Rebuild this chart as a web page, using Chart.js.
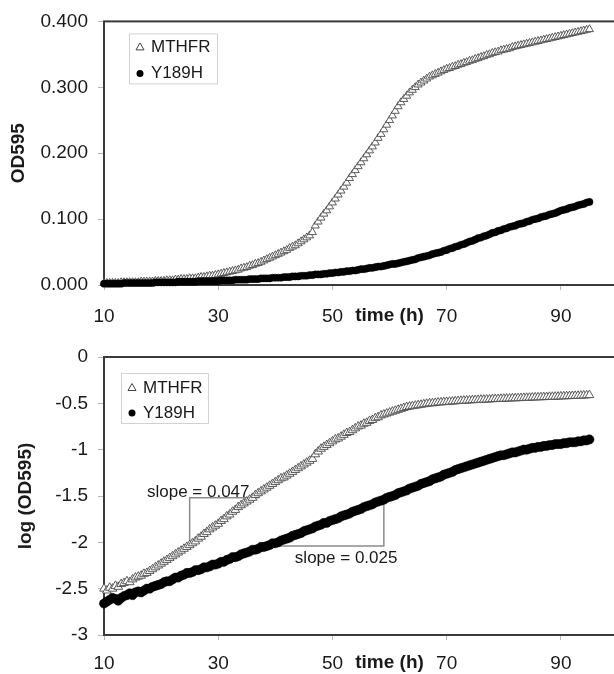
<!DOCTYPE html>
<html>
<head>
<meta charset="utf-8">
<title>OD595 growth curves</title>
<script src="https://cdn.jsdelivr.net/npm/chart.js@4.4.1/dist/chart.umd.min.js"></script>
<style>
  html, body { margin: 0; padding: 0; background: #fff; overflow: hidden; width: 614px; height: 674px; }
  canvas { display: block; }
</style>
</head>
<body>
<canvas id="odChart" width="630" height="335"></canvas>
<canvas id="logChart" width="630" height="339"></canvas>
<script>
// --- data ---
const seriesNames = ['MTHFR', 'Y189H'];

const timeH = [
  10,10.5,11,11.5,12,12.5,13,13.5,14,14.5,15,15.5,16,16.5,17,17.5,18,18.5,19,19.5,
  20,20.5,21,21.5,22,22.5,23,23.5,24,24.5,25,25.5,26,26.5,27,27.5,28,28.5,29,29.5,
  30,30.5,31,31.5,32,32.5,33,33.5,34,34.5,35,35.5,36,36.5,37,37.5,38,38.5,39,39.5,
  40,40.5,41,41.5,42,42.5,43,43.5,44,44.5,45,45.5,46,46.5,47,47.5,48,48.5,49,49.5,
  50,50.5,51,51.5,52,52.5,53,53.5,54,54.5,55,55.5,56,56.5,57,57.5,58,58.5,59,59.5,
  60,60.5,61,61.5,62,62.5,63,63.5,64,64.5,65,65.5,66,66.5,67,67.5,68,68.5,69,69.5,
  70,70.5,71,71.5,72,72.5,73,73.5,74,74.5,75,75.5,76,76.5,77,77.5,78,78.5,79,79.5,
  80,80.5,81,81.5,82,82.5,83,83.5,84,84.5,85,85.5,86,86.5,87,87.5,88,88.5,89,89.5,
  90,90.5,91,91.5,92,92.5,93,93.5,94,94.5,95
];

// OD595, top panel
const odMTHFR = [
  0.003,0.003,0.003,0.003,0.003,0.003,0.004,0.004,0.004,0.004, 0.004,0.004,0.004,0.005,0.005,0.005,0.005,0.005,0.006,0.006,
  0.006,0.006,0.007,0.007,0.007,0.008,0.008,0.009,0.009,0.009, 0.010,0.010,0.010,0.011,0.012,0.012,0.013,0.014,0.014,0.015,
  0.016,0.017,0.018,0.019,0.020,0.021,0.022,0.023,0.025,0.026, 0.027,0.029,0.030,0.032,0.033,0.035,0.037,0.039,0.041,0.043,
  0.045,0.047,0.049,0.051,0.053,0.056,0.058,0.060,0.063,0.066, 0.069,0.072,0.075,0.080,0.090,0.096,0.102,0.108,0.113,0.119,
  0.125,0.131,0.137,0.143,0.149,0.155,0.162,0.168,0.174,0.180, 0.186,0.192,0.198,0.204,0.210,0.216,0.223,0.229,0.236,0.243,
  0.250,0.257,0.264,0.271,0.277,0.282,0.287,0.292,0.296,0.300, 0.304,0.307,0.310,0.313,0.316,0.318,0.320,0.322,0.324,0.326,
  0.328,0.329,0.331,0.332,0.334,0.335,0.337,0.338,0.340,0.341, 0.343,0.344,0.346,0.347,0.349,0.350,0.352,0.353,0.354,0.356,
  0.357,0.358,0.359,0.361,0.362,0.363,0.364,0.365,0.366,0.367, 0.368,0.369,0.370,0.371,0.372,0.373,0.374,0.375,0.376,0.377,
  0.378,0.379,0.380,0.381,0.382,0.383,0.384,0.385,0.386,0.387,0.388
];
const odY189H = [
  0.002,0.002,0.002,0.002,0.002,0.002,0.002,0.003,0.003,0.003, 0.003,0.003,0.003,0.003,0.003,0.003,0.003,0.003,0.004,0.004,
  0.004,0.004,0.004,0.004,0.004,0.004,0.005,0.005,0.005,0.005, 0.005,0.005,0.005,0.006,0.006,0.006,0.006,0.006,0.006,0.006,
  0.006,0.007,0.007,0.007,0.007,0.007,0.008,0.008,0.008,0.008, 0.008,0.009,0.009,0.009,0.009,0.010,0.010,0.010,0.010,0.011,
  0.011,0.011,0.011,0.012,0.012,0.012,0.013,0.013,0.013,0.014, 0.014,0.014,0.015,0.015,0.016,0.016,0.016,0.017,0.017,0.018,
  0.018,0.019,0.019,0.020,0.020,0.021,0.021,0.022,0.022,0.023, 0.024,0.024,0.025,0.026,0.026,0.027,0.028,0.028,0.029,0.030,
  0.031,0.032,0.032,0.033,0.034,0.035,0.036,0.037,0.038,0.039, 0.041,0.042,0.043,0.044,0.045,0.047,0.048,0.049,0.050,0.052,
  0.053,0.055,0.056,0.058,0.059,0.061,0.062,0.064,0.066,0.067, 0.069,0.071,0.072,0.074,0.075,0.077,0.079,0.080,0.082,0.083,
  0.085,0.086,0.088,0.089,0.090,0.092,0.093,0.094,0.096,0.097, 0.099,0.100,0.101,0.103,0.104,0.105,0.107,0.108,0.109,0.111,
  0.113,0.114,0.115,0.117,0.118,0.119,0.121,0.122,0.123,0.125,0.126
];

// log(OD595), bottom panel
const logMTHFR = [
  -2.50,-2.52,-2.49,-2.50,-2.47,-2.48,-2.45,-2.44,-2.42,-2.43, -2.40,-2.38,-2.37,-2.36,-2.34,-2.33,-2.31,-2.29,-2.27,-2.25,
  -2.23,-2.21,-2.19,-2.17,-2.15,-2.13,-2.11,-2.09,-2.07,-2.05, -2.03,-2.01,-1.99,-1.96,-1.94,-1.91,-1.89,-1.86,-1.84,-1.82,
  -1.80,-1.77,-1.75,-1.72,-1.70,-1.67,-1.65,-1.62,-1.60,-1.58, -1.56,-1.54,-1.52,-1.49,-1.47,-1.45,-1.43,-1.41,-1.39,-1.37,
  -1.35,-1.33,-1.31,-1.30,-1.28,-1.26,-1.24,-1.22,-1.20,-1.18, -1.16,-1.14,-1.12,-1.10,-1.05,-1.02,-0.99,-0.97,-0.95,-0.93,
  -0.91,-0.89,-0.88,-0.86,-0.84,-0.82,-0.81,-0.79,-0.77,-0.75, -0.74,-0.72,-0.71,-0.69,-0.68,-0.66,-0.65,-0.63,-0.62,-0.61,
  -0.60,-0.59,-0.58,-0.57,-0.56,-0.55,-0.54,-0.535,-0.53,-0.525, -0.52,-0.515,-0.51,-0.505,-0.50,-0.50,-0.495,-0.49,-0.49,-0.487,
  -0.485,-0.482,-0.48,-0.478,-0.475,-0.473,-0.471,-0.47,-0.468,-0.466, -0.465,-0.463,-0.461,-0.46,-0.459,-0.457,-0.455,-0.454,-0.453,-0.451,
  -0.45,-0.449,-0.447,-0.446,-0.445,-0.444,-0.443,-0.441,-0.44,-0.439, -0.437,-0.436,-0.435,-0.434,-0.433,-0.432,-0.43,-0.429,-0.428,-0.427,
  -0.425,-0.424,-0.423,-0.422,-0.42,-0.419,-0.418,-0.417,-0.415,-0.413,-0.411
];
const logY189H = [
  -2.66,-2.64,-2.62,-2.60,-2.61,-2.63,-2.60,-2.58,-2.57,-2.55, -2.57,-2.54,-2.53,-2.54,-2.52,-2.50,-2.50,-2.48,-2.47,-2.46,
  -2.45,-2.43,-2.42,-2.42,-2.40,-2.38,-2.38,-2.36,-2.35,-2.33, -2.33,-2.32,-2.30,-2.30,-2.29,-2.27,-2.27,-2.26,-2.24,-2.24,
  -2.23,-2.21,-2.21,-2.19,-2.18,-2.16,-2.16,-2.15,-2.13,-2.12, -2.11,-2.10,-2.08,-2.08,-2.07,-2.05,-2.05,-2.04,-2.03,-2.01,
  -2.01,-2.00,-1.98,-1.97,-1.96,-1.95,-1.93,-1.92,-1.91,-1.90, -1.88,-1.87,-1.86,-1.85,-1.83,-1.82,-1.81,-1.79,-1.79,-1.77,
  -1.76,-1.75,-1.74,-1.72,-1.71,-1.70,-1.69,-1.67,-1.66,-1.65, -1.64,-1.62,-1.61,-1.60,-1.59,-1.57,-1.56,-1.55,-1.54,-1.52,
  -1.51,-1.50,-1.49,-1.47,-1.46,-1.45,-1.44,-1.42,-1.41,-1.40, -1.39,-1.37,-1.36,-1.35,-1.34,-1.32,-1.31,-1.30,-1.29,-1.27,
  -1.26,-1.25,-1.24,-1.22,-1.21,-1.20,-1.19,-1.18,-1.17,-1.16, -1.15,-1.14,-1.13,-1.12,-1.11,-1.10,-1.09,-1.08,-1.07,-1.06,
  -1.06,-1.05,-1.04,-1.03,-1.03,-1.02,-1.01,-1.00,-1.00,-0.99, -0.98,-0.98,-0.97,-0.97,-0.96,-0.96,-0.95,-0.95,-0.94,-0.94,
  -0.94,-0.93,-0.93,-0.92,-0.92,-0.92,-0.91,-0.91,-0.90,-0.90,-0.89
];

const xTicks = [10, 30, 50, 70, 90];
const xTitle = 'time (h)';

// slope brackets and their labels (bottom panel, data units)
const bracketMTHFRx = [25, 25, 37];
const bracketMTHFRy = [-2.03, -1.52, -1.52];
const bracketY189Hx = [39, 59, 59];
const bracketY189Hy = [-2.04, -2.04, -1.56];
const slopeLabels = ['slope = 0.047', 'slope = 0.025'];
const slopeLabelX = [26.5, 52.4];
const slopeLabelY = [-1.46, -2.17];

const FONT = '"Liberation Sans", Arial, sans-serif';
Chart.defaults.font.family = FONT;
Chart.defaults.color = '#1a1a1a';

const pts = (xs, ys) => xs.map((x, i) => ({ x: x, y: ys[i] }));

// box around the plot area
const framePlugin = {
    id: 'frame',
    beforeDatasetsDraw(chart) {
        const { ctx, chartArea: a } = chart;
        ctx.save();
        ctx.strokeStyle = '#3a3a3a';
        ctx.lineWidth = 2;
        ctx.strokeRect(a.left, a.top, a.right - a.left, a.bottom - a.top);
        ctx.restore();
    }
};

// Excel-style legend box inside the plot
const boxLegend = {
    id: 'boxLegend',
    afterDraw(chart, args, o) {
        const { ctx, chartArea: a } = chart;
        const x = a.left + o.dx, y = a.top + o.dy;
        ctx.save();
        ctx.fillStyle = '#fff';
        ctx.fillRect(x, y, o.w, o.h);
        ctx.strokeStyle = '#d2d2d2';
        ctx.lineWidth = 1;
        ctx.strokeRect(x + 0.5, y + 0.5, o.w, o.h);
        ctx.font = '17px ' + FONT;
        ctx.textBaseline = 'middle';
        seriesNames.forEach((name, i) => {
            const cy = y + o.row0 + i * o.rowGap;
            const mx = x + o.markX;
            if (i === 0) {
                ctx.beginPath();
                ctx.moveTo(mx, cy - 4.5);
                ctx.lineTo(mx + 4, cy + 2.5);
                ctx.lineTo(mx - 4, cy + 2.5);
                ctx.closePath();
                ctx.fillStyle = '#fff';
                ctx.fill();
                ctx.strokeStyle = '#444';
                ctx.lineWidth = 1;
                ctx.stroke();
            } else {
                ctx.beginPath();
                ctx.arc(mx, cy, 3.5, 0, Math.PI * 2);
                ctx.fillStyle = '#000';
                ctx.fill();
            }
            ctx.fillStyle = '#1a1a1a';
            ctx.fillText(name, x + o.textX, cy);
        });
        ctx.restore();
    }
};

// x-axis title sitting in the tick-label row, plus slope labels
const textNotes = {
    id: 'textNotes',
    afterDraw(chart, args, o) {
        const { ctx, chartArea: a, scales } = chart;
        ctx.save();
        ctx.textAlign = 'center';
        ctx.textBaseline = 'middle';
        ctx.fillStyle = '#1a1a1a';
        ctx.font = 'bold 19px ' + FONT;
        ctx.fillText(xTitle, scales.x.getPixelForValue(o.titleAt), a.bottom + o.titleDy);
        if (o.notes) {
            ctx.font = '17px ' + FONT;
            o.notes.forEach((t, i) => {
                ctx.fillText(t, scales.x.getPixelForValue(o.noteX[i]), scales.y.getPixelForValue(o.noteY[i]));
            });
        }
        ctx.restore();
    }
};

const makeOptions = (cfg) => ({
    responsive: false,
    animation: false,
    devicePixelRatio: 1,
    layout: { padding: { top: cfg.top, right: 12, left: 0, bottom: 0 } },
    plugins: {
        legend: { display: false },
        tooltip: { enabled: false },
        boxLegend: cfg.legend,
        textNotes: cfg.notes
    },
    scales: {
        x: {
            type: 'linear',
            min: 10,
            max: 100,
            afterBuildTicks: s => { s.ticks = xTicks.map(v => ({ value: v })); },
            afterFit: s => { s.height = cfg.xHeight; },
            grid: { drawOnChartArea: false, tickLength: 5, color: '#b8b8b8' },
            border: { display: false },
            ticks: { font: { size: 19 }, padding: cfg.xPad, maxRotation: 0 }
        },
        y: {
            min: cfg.yMin,
            max: cfg.yMax,
            afterFit: s => { s.width = 104; },
            grid: { drawOnChartArea: false, tickLength: 6, color: '#b8b8b8' },
            border: { display: false },
            ticks: { stepSize: cfg.yStep, font: { size: 19 }, padding: 10, callback: cfg.yFmt },
            title: {
                display: true,
                text: cfg.yTitle,
                font: { size: 19, weight: 'bold' },
                padding: { top: cfg.yTitlePad, bottom: 0 }
            }
        }
    }
});

const seriesSets = (ysA, ysB, triR, dotR) => [
    {
        label: seriesNames[1],
        data: pts(timeH, ysB),
        showLine: false,
        pointStyle: 'circle',
        pointRadius: dotR,
        backgroundColor: '#000',
        borderColor: '#000',
        borderWidth: 0.5,
        clip: false,
        order: 1
    },
    {
        label: seriesNames[0],
        data: pts(timeH, ysA),
        showLine: false,
        pointStyle: 'triangle',
        pointRadius: triR,
        backgroundColor: '#fff',
        borderColor: '#4a4a4a',
        borderWidth: 0.9,
        clip: false,
        order: 2
    }
];

new Chart(document.getElementById('odChart'), {
    type: 'scatter',
    data: { datasets: seriesSets(odMTHFR, odY189H, 4.6, 3.6) },
    options: makeOptions({
        top: 20, xHeight: 50, xPad: 15,
        yMin: 0, yMax: 0.4, yStep: 0.1, yFmt: v => v.toFixed(3),
        yTitle: 'OD595', yTitlePad: 7,
        legend: { dx: 25, dy: 12, w: 88, h: 50, row0: 14, rowGap: 26, markX: 11, textX: 22 },
        notes: { titleAt: 60, titleDy: 31 }
    }),
    plugins: [framePlugin, boxLegend, textNotes]
});

const logSets = seriesSets(logMTHFR, logY189H, 5, 4.6);
logSets.push(
    { data: pts(bracketMTHFRx, bracketMTHFRy), showLine: true, pointRadius: 0, borderColor: '#8c8c8c', borderWidth: 1.5, fill: false, order: 3 },
    { data: pts(bracketY189Hx, bracketY189Hy), showLine: true, pointRadius: 0, borderColor: '#8c8c8c', borderWidth: 1.5, fill: false, order: 3 }
);

new Chart(document.getElementById('logChart'), {
    type: 'scatter',
    data: { datasets: logSets },
    options: makeOptions({
        top: 22, xHeight: 39, xPad: 12,
        yMin: -3, yMax: 0, yStep: 0.5, yFmt: v => String(v),
        yTitle: 'log (OD595)', yTitlePad: 14,
        legend: { dx: 17, dy: 16, w: 87, h: 50, row0: 15, rowGap: 25, markX: 11, textX: 22 },
        notes: { titleAt: 60, titleDy: 28, notes: slopeLabels, noteX: slopeLabelX, noteY: slopeLabelY }
    }),
    plugins: [framePlugin, boxLegend, textNotes]
});
</script>
</body>
</html>
